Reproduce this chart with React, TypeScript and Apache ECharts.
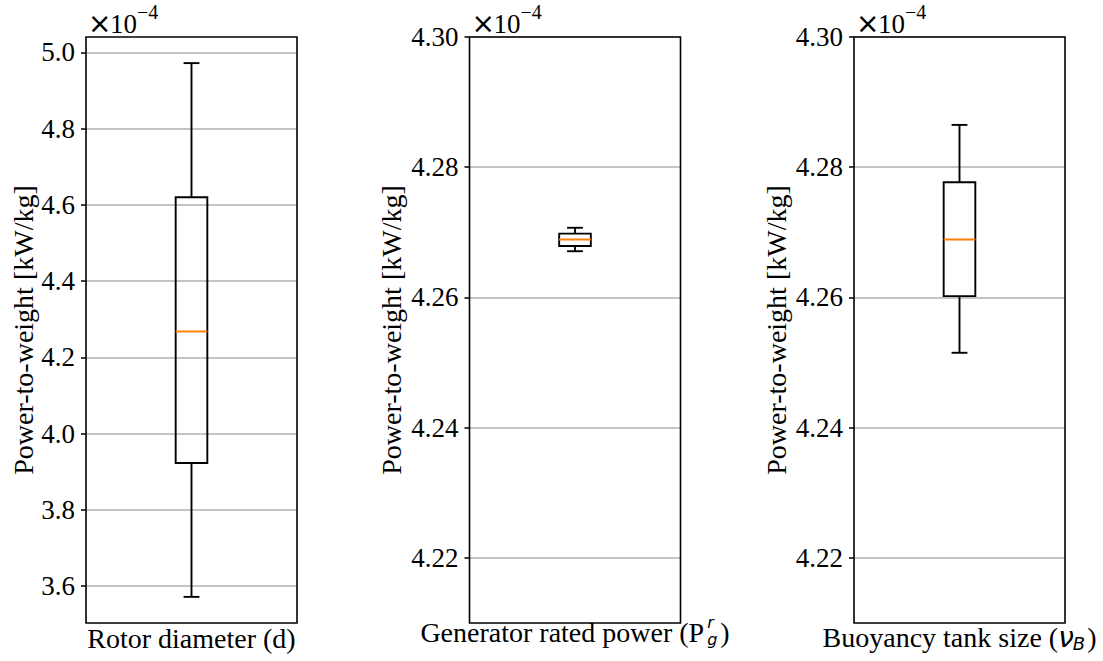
import React, { useEffect, useRef } from "react";
import * as echarts from "echarts";

// Five-number summaries, in units of 1e-4 kW/kg:
// [lower whisker, Q1, median, Q3, upper whisker]
const rotorDiameter = [3.572, 3.923, 4.268, 4.62, 4.972];
const generatorPower = [4.2671, 4.2679, 4.2689, 4.2698, 4.2707];
const buoyancyTank = [4.2515, 4.2602, 4.2689, 4.2777, 4.2865];

// y-axis limits and tick labels per panel
const rotorLimits = [3.5035, 5.0405];
const narrowLimits = [4.21, 4.3];
const rotorTicks = [3.6, 3.8, 4.0, 4.2, 4.4, 4.6, 4.8, 5.0];
const narrowTicks = [4.22, 4.24, 4.26, 4.28, 4.3];
const rotorDecimals = 1;
const narrowDecimals = 2;

const yAxisTitle = "Power-to-weight [kW/kg]";
const rotorTitle = "Rotor diameter (d)";
const generatorTitle = "Generator rated power (P";
const buoyancyTitle = "Buoyancy tank size (";

const SERIF = "Liberation Serif";
const MATH = "DejaVu Sans";
const TICK_SIZE = 27;
const LABEL_SIZE = 28;
const YNAME_SIZE = 28;
const BOX_WIDTH = 0.15;

const GRID_TOP = 37;
const GRID_HEIGHT = 586;
const GRID_WIDTH = 211;
const GRID_LEFTS = [86, 469.5, 854];

function measure(text: string, size: number, family: string, italic = false) {
  const c = document.createElement("canvas").getContext("2d")!;
  c.font = `${italic ? "italic " : ""}${size}px "${family}"`;
  return c.measureText(text).width;
}

export default function App() {
  const ref = useRef<HTMLDivElement>(null);

  useEffect(() => {
    if (!ref.current) return;
    const chart = echarts.init(ref.current, undefined, { renderer: "svg" });

    const panels = [
      { data: rotorDiameter, limits: rotorLimits, ticks: rotorTicks, dec: rotorDecimals },
      { data: generatorPower, limits: narrowLimits, ticks: narrowTicks, dec: narrowDecimals },
      { data: buoyancyTank, limits: narrowLimits, ticks: narrowTicks, dec: narrowDecimals },
    ];

    const grids = GRID_LEFTS.map((left) => ({
      left,
      top: GRID_TOP,
      width: GRID_WIDTH,
      height: GRID_HEIGHT,
      containLabel: false,
    }));

    const xAxes = panels.map((_, i) => ({
      type: "value",
      gridIndex: i,
      min: 0.5,
      max: 1.5,
      axisLine: { show: false },
      axisTick: { show: false },
      axisLabel: { show: false },
      splitLine: { show: false },
    }));

    const yAxes = panels.map((p, i) => ({
      type: "value",
      gridIndex: i,
      min: p.limits[0],
      max: p.limits[1],
      axisLine: { show: false },
      axisTick: {
        show: true,
        length: 5,
        inside: false,
        customValues: p.ticks,
        lineStyle: { color: "#000", width: 1.5 },
      },
      axisLabel: {
        customValues: p.ticks,
        margin: 11,
        color: "#000",
        fontFamily: SERIF,
        fontSize: TICK_SIZE,
        formatter: (v: number) => v.toFixed(p.dec),
      },
      splitLine: {
        show: true,
        lineStyle: { color: "#b0b0b0", width: 1.5 },
      },
    }));

    const series = panels.map((p, i) => ({
      type: "custom",
      xAxisIndex: i,
      yAxisIndex: i,
      dimensions: ["x", "lo", "q1", "med", "q3", "hi"],
      encode: { x: 0, y: [1, 2, 3, 4, 5] },
      data: [[1, ...p.data]],
      renderItem: (_params: any, api: any) => {
        const x = api.value(0);
        const lo = api.coord([x, api.value(1)]);
        const q1 = api.coord([x, api.value(2)]);
        const md = api.coord([x, api.value(3)]);
        const q3 = api.coord([x, api.value(4)]);
        const hi = api.coord([x, api.value(5)]);
        const bw = api.size([BOX_WIDTH, 0])[0];
        const cx = lo[0];
        const half = bw / 2;
        const cap = bw / 4;
        const ink = { stroke: "#000", lineWidth: 1.9, fill: "none" };
        return {
          type: "group",
          children: [
            { type: "line", shape: { x1: cx, y1: q1[1], x2: cx, y2: lo[1] }, style: ink },
            { type: "line", shape: { x1: cx, y1: q3[1], x2: cx, y2: hi[1] }, style: ink },
            { type: "line", shape: { x1: cx - cap, y1: lo[1], x2: cx + cap, y2: lo[1] }, style: ink },
            { type: "line", shape: { x1: cx - cap, y1: hi[1], x2: cx + cap, y2: hi[1] }, style: ink },
            {
              type: "rect",
              shape: { x: cx - half, y: q3[1], width: bw, height: q1[1] - q3[1] },
              style: ink,
            },
            {
              type: "line",
              shape: { x1: cx - half, y1: md[1], x2: cx + half, y2: md[1] },
              style: { stroke: "#ff7f0e", lineWidth: 2 },
            },
          ],
        };
      },
    }));

    const graphics: any[] = [];

    // axes frames (spines)
    GRID_LEFTS.forEach((left) => {
      graphics.push({
        type: "rect",
        z: 100,
        shape: { x: left, y: GRID_TOP, width: GRID_WIDTH, height: GRID_HEIGHT },
        style: { fill: "none", stroke: "#000", lineWidth: 1.6 },
        silent: true,
      });
    });

    // scale factor text above each panel
    GRID_LEFTS.forEach((left) => {
      const L = left + 2;
      graphics.push(
        {
          type: "text", z: 100, x: L, y: 23,
          style: { text: "×", font: `28px "${MATH}"`, fill: "#000", align: "left", verticalAlign: "middle" },
        },
        {
          type: "text", z: 100, x: L + 22, y: 23.5,
          style: { text: "10", font: `27px "${SERIF}"`, fill: "#000", align: "left", verticalAlign: "middle" },
        },
        {
          type: "text", z: 100, x: L + 49, y: 12,
          style: { text: "−4", font: `20px "${SERIF}"`, fill: "#000", align: "left", verticalAlign: "middle" },
        }
      );
    });

    // y-axis titles
    const yNameX = [23, 391, 776];
    yNameX.forEach((x) => {
      graphics.push({
        type: "text", z: 100, x, y: GRID_TOP + GRID_HEIGHT / 2, rotation: Math.PI / 2,
        style: {
          text: yAxisTitle, font: `${YNAME_SIZE}px "${SERIF}"`, fill: "#000",
          align: "center", verticalAlign: "middle",
        },
      });
    });

    // x-axis titles
    const centers = GRID_LEFTS.map((l) => l + GRID_WIDTH / 2);
    graphics.push({
      type: "text", z: 100, x: centers[0], y: 638,
      style: { text: rotorTitle, font: `${LABEL_SIZE}px "${SERIF}"`, fill: "#000", align: "center", verticalAlign: "middle" },
    });

    {
      const scriptSize = 16;
      const gap = 3;
      const wMain = measure(generatorTitle, LABEL_SIZE, SERIF);
      const wScript = Math.max(measure("r", scriptSize, MATH, true), measure("g", scriptSize, MATH, true));
      const wParen = measure(")", LABEL_SIZE, SERIF);
      const total = wMain + gap + wScript + gap + wParen;
      const x0 = centers[1] - total / 2;
      const yMid = 632;
      graphics.push(
        {
          type: "text", z: 100, x: x0, y: yMid,
          style: { text: generatorTitle, font: `${LABEL_SIZE}px "${SERIF}"`, fill: "#000", align: "left", verticalAlign: "middle" },
        },
        {
          // stacked superscript r over subscript g
          type: "text", z: 101, x: x0 + wMain + gap, y: yMid - 1,
          style: {
            text: "r\ng", font: `italic ${scriptSize}px "${MATH}"`, lineHeight: 17,
            fill: "#000", align: "left", verticalAlign: "middle",
          },
        },
        {
          type: "text", z: 100, x: x0 + wMain + gap + wScript + gap, y: yMid,
          style: { text: ")", font: `${LABEL_SIZE}px "${SERIF}"`, fill: "#000", align: "left", verticalAlign: "middle" },
        }
      );
    }

    {
      const wMain = measure(buoyancyTitle, LABEL_SIZE, SERIF);
      const wNu = measure("ν", LABEL_SIZE, MATH, true);
      const wB = measure("B", 18, MATH, true);
      const wParen = measure(")", LABEL_SIZE, SERIF);
      const total = wMain + wNu + wB + 1 + wParen;
      const x0 = centers[2] - total / 2;
      const yMid = 637.5;
      graphics.push(
        {
          type: "text", z: 100, x: x0, y: yMid,
          style: { text: buoyancyTitle, font: `${LABEL_SIZE}px "${SERIF}"`, fill: "#000", align: "left", verticalAlign: "middle" },
        },
        {
          type: "text", z: 100, x: x0 + wMain, y: yMid,
          style: { text: "ν", font: `italic ${LABEL_SIZE}px "${MATH}"`, fill: "#000", align: "left", verticalAlign: "middle" },
        },
        {
          type: "text", z: 100, x: x0 + wMain + wNu - 1, y: yMid + 6,
          style: { text: "B", font: `italic 18px "${MATH}"`, fill: "#000", align: "left", verticalAlign: "middle" },
        },
        {
          type: "text", z: 100, x: x0 + wMain + wNu + wB + 1, y: yMid,
          style: { text: ")", font: `${LABEL_SIZE}px "${SERIF}"`, fill: "#000", align: "left", verticalAlign: "middle" },
        }
      );
    }

    chart.setOption({
      animation: false,
      backgroundColor: "#fff",
      grid: grids,
      xAxis: xAxes,
      yAxis: yAxes,
      series,
      graphic: graphics,
    });

    return () => chart.dispose();
  }, []);

  return (
    <div
      ref={ref}
      style={{ position: "fixed", left: 0, top: 0, width: 1103, height: 661, background: "#fff" }}
    />
  );
}
